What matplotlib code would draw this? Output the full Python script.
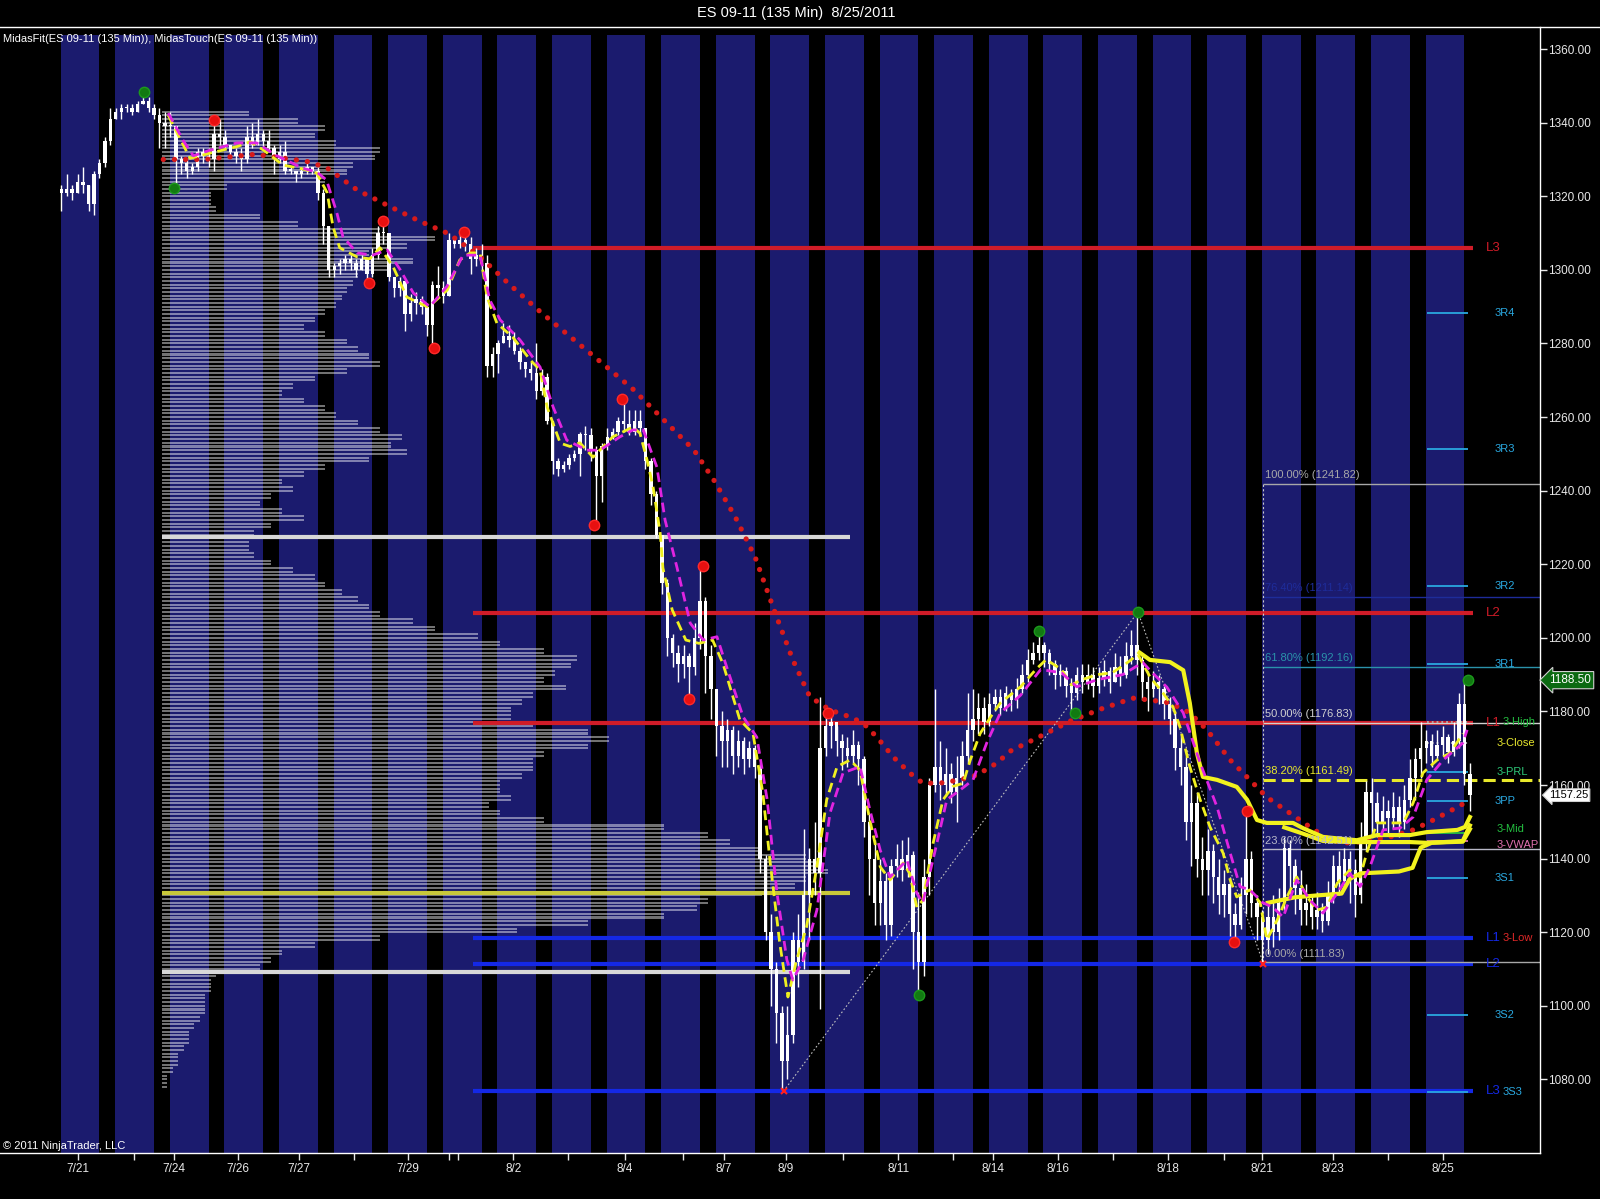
import numpy as np
import matplotlib
matplotlib.use("Agg")
import matplotlib.pyplot as plt
import matplotlib.transforms as mtransforms
from matplotlib.lines import Line2D
from matplotlib.ticker import FormatStrFormatter

plt.rcParams['font.family'] = ['Liberation Sans', 'DejaVu Sans']

# ---------------- data ----------------
title = "ES 09-11 (135 Min)  8/25/2011"
indicator_caption = "MidasFit(ES 09-11 (135 Min)), MidasTouch(ES 09-11 (135 Min))"
copyright_text = "\u00a9 2011 NinjaTrader, LLC"

first_open = 1322
closes = [
    1321, 1322, 1321, 1324, 1323, 1318, 1326, 1329, 1335, 1341,
    1343, 1344, 1344, 1343, 1345, 1346, 1344, 1342, 1340, 1339,
    1339, 1330, 1329, 1327, 1328, 1332, 1331, 1330, 1337, 1336,
    1334, 1332, 1331, 1330, 1336, 1334, 1337, 1335, 1333, 1330,
    1332, 1327, 1327, 1326, 1327, 1328, 1327, 1321, 1312, 1300,
    1301, 1302, 1303, 1302, 1300, 1303, 1299, 1304, 1310, 1310,
    1298, 1295, 1297, 1288, 1291, 1292, 1290, 1285, 1296, 1295,
    1293, 1308, 1307, 1308, 1307, 1303, 1304, 1302, 1274, 1277,
    1280, 1282, 1281, 1278, 1275, 1273, 1272, 1267, 1271, 1259,
    1248, 1246, 1247, 1249, 1250, 1255.5, 1255, 1251, 1244, 1252,
    1254.5, 1256, 1259, 1258, 1256, 1259, 1257, 1248, 1239, 1228,
    1215, 1200, 1196, 1193, 1195, 1192, 1200, 1210, 1195, 1186,
    1176, 1172, 1175, 1168, 1172, 1167, 1170, 1165, 1140, 1120,
    1110, 1098, 1085, 1092, 1118, 1112, 1130, 1140, 1136, 1170,
    1176, 1177, 1172, 1170, 1168, 1171, 1167, 1150, 1140, 1128,
    1134, 1122, 1138, 1140, 1137, 1141, 1120, 1112, 1135, 1160,
    1165, 1160, 1163, 1158, 1162, 1168, 1175, 1178, 1181, 1177,
    1182, 1184, 1181, 1185, 1183, 1186, 1190, 1194, 1196, 1198,
    1196, 1193, 1190, 1191, 1187, 1185, 1190, 1188, 1190, 1187,
    1189, 1191, 1188, 1192, 1190, 1195, 1198, 1194, 1188, 1186,
    1188, 1186, 1182, 1178, 1170, 1165, 1150, 1155, 1140, 1137,
    1142, 1135, 1130, 1133, 1125, 1122, 1130, 1140, 1128, 1124,
    1118, 1124, 1120, 1128, 1143, 1138, 1132, 1126, 1128, 1124,
    1126, 1123, 1130, 1138, 1134, 1140, 1137, 1130, 1145, 1158,
    1155, 1150, 1153, 1151, 1154, 1150, 1156, 1162, 1167, 1170,
    1172, 1168, 1171, 1173, 1169, 1172, 1182, 1163, 1157.25,
]
highs = [
    1323, 1326, 1323, 1326, 1328, 1323, 1327, 1330, 1336, 1344,
    1344, 1345, 1345, 1345, 1346, 1348, 1347, 1345, 1344, 1343,
    1343, 1339, 1331, 1330, 1329, 1333, 1333, 1333, 1340, 1341,
    1338, 1334, 1333, 1333, 1339, 1340, 1341, 1338, 1338, 1334,
    1334, 1335, 1328, 1327, 1328, 1329, 1328, 1328, 1322, 1312,
    1302, 1303, 1304, 1304, 1303, 1304, 1302, 1306, 1312, 1313,
    1310, 1298, 1298, 1297, 1293.5, 1294, 1293, 1291, 1297, 1301,
    1297, 1310, 1309, 1310, 1310.5, 1309, 1306, 1307, 1304, 1279,
    1281, 1285.5, 1285, 1283, 1279, 1275, 1275, 1280, 1273, 1272,
    1259, 1249, 1248, 1250, 1251, 1256, 1257.5, 1257, 1252, 1253,
    1257, 1257, 1260, 1265, 1262, 1262, 1262, 1257, 1249, 1240,
    1228, 1216, 1201, 1198, 1198, 1196, 1204, 1219, 1211, 1198,
    1186, 1180, 1178, 1176, 1175, 1173, 1172, 1171, 1166, 1141,
    1125, 1112, 1100, 1100, 1120, 1125, 1148, 1143, 1150, 1184,
    1180, 1179, 1176, 1174, 1173, 1175, 1172, 1168, 1152, 1145,
    1140, 1136, 1140, 1144, 1145, 1146, 1142, 1131, 1140, 1162,
    1186, 1172, 1170, 1166, 1168, 1172, 1185, 1186, 1185, 1184,
    1185, 1186, 1186, 1187, 1186, 1189, 1193, 1197, 1199, 1202,
    1199, 1197, 1194, 1193, 1192, 1189, 1192, 1193, 1193, 1192,
    1192, 1194, 1192, 1196, 1195, 1199, 1202, 1207, 1196, 1191,
    1191, 1190, 1187, 1184, 1180, 1174, 1168, 1160, 1158, 1146,
    1148, 1144, 1140, 1137, 1135, 1128, 1135, 1153, 1142, 1130,
    1126, 1128, 1130, 1132, 1146, 1145, 1140, 1137, 1133, 1130,
    1131, 1128, 1134, 1141, 1142, 1143, 1142, 1140, 1150, 1161,
    1162, 1158, 1157, 1156, 1158, 1157, 1160, 1167, 1170, 1177,
    1175, 1174, 1175, 1176, 1174, 1177, 1185, 1188.5, 1166,
]
lows = [
    1316, 1320, 1319, 1321, 1321, 1316, 1315, 1325, 1328, 1334,
    1341, 1341, 1343, 1342, 1343, 1345, 1343, 1341, 1333, 1333,
    1336, 1322, 1326, 1325, 1326, 1327, 1329, 1328, 1327, 1334,
    1333, 1331, 1329, 1327, 1329, 1333, 1334, 1333, 1332, 1326,
    1329, 1326, 1326, 1324, 1325, 1326, 1326, 1319, 1307, 1298,
    1298, 1299, 1300, 1300, 1298, 1300, 1296.5, 1298, 1303, 1307,
    1297, 1292.5, 1293, 1283.5, 1286, 1288, 1288, 1282, 1279, 1293,
    1291, 1293, 1306, 1306, 1305, 1299, 1301, 1300, 1271, 1271,
    1272, 1280, 1279, 1277, 1273, 1271, 1270, 1265, 1266, 1258,
    1244.5, 1244, 1245, 1246, 1248, 1244, 1251, 1248, 1230.7, 1237,
    1251, 1254, 1255, 1256, 1255, 1255, 1255, 1246, 1236, 1227,
    1212, 1195, 1192, 1188, 1189, 1183.5, 1190, 1197, 1185, 1178,
    1168, 1165, 1165, 1163, 1165, 1163, 1165, 1162, 1136, 1118,
    1100, 1090, 1077, 1080, 1090, 1105, 1110, 1118, 1130, 1099,
    1168, 1170, 1168, 1164, 1165, 1166, 1160, 1146, 1130, 1122,
    1122, 1118, 1119, 1135, 1134, 1135, 1110, 1103, 1108, 1130,
    1158, 1156, 1157, 1155, 1150, 1160, 1166, 1172, 1174, 1174,
    1176, 1180, 1179, 1180, 1180, 1181, 1185, 1188, 1193, 1194,
    1192, 1190, 1186, 1187, 1184, 1180, 1183, 1185, 1186, 1184,
    1185, 1187, 1185, 1188, 1187, 1189, 1193, 1190, 1183, 1180,
    1184, 1182, 1178, 1174, 1164, 1160, 1145, 1138, 1135, 1130,
    1130, 1128, 1125, 1124, 1119, 1117, 1121, 1125, 1124, 1118,
    1111.8, 1114, 1116, 1118, 1126, 1130, 1125, 1122, 1122, 1121,
    1121, 1120, 1122, 1128, 1130, 1132, 1128, 1124, 1128, 1142,
    1146, 1146, 1148, 1147, 1148, 1146, 1148, 1154, 1156, 1162,
    1166, 1165, 1167, 1168, 1166, 1168, 1170, 1160, 1153,
]

session_count = 26
bars_per_session = 10

# volume profile (2-point buckets from 1342 down to 1078)
profile_top = 1342
profile_volume = [
    16, 25, 30, 28, 32, 40, 39, 35, 34, 30,
    12, 9, 9, 10, 18, 25, 40, 50, 45, 38,
    46, 42, 36, 35, 34, 33, 32, 30, 28, 26,
    30, 34, 36, 38, 40, 34, 28, 24, 22, 26,
    30, 32, 36, 40, 44, 42, 45, 38, 30, 26,
    22, 24, 20, 18, 22, 26, 20, 17, 16, 16,
    17, 20, 24, 28, 30, 33, 36, 38, 40, 46,
    50, 58, 62, 70, 76, 75, 72, 70, 74, 68,
    66, 64, 64, 68, 78, 82, 78, 70, 68, 68,
    66, 62, 62, 64, 60, 62, 70, 92, 100, 104,
    110, 118, 120, 122, 118, 116, 110, 100, 98, 92,
    78, 65, 40, 28, 22, 20, 18, 10, 9, 9,
    8, 8, 8, 7, 6, 5, 5, 4, 3, 3,
    2, 1, 1,
]
profile_prices = profile_top - 2 * np.arange(len(profile_volume))
profile_levels = [1227.5, 1130.6, 1109.3]
profile_level_colors = ['#d8d8d8', '#c8c83a', '#d8d8d8']

# MidasFit (yellow dashed) and MidasTouch (magenta dashed) curves
fit_points = [
    (19.6, 1342), (23.6, 1330.3), (27.2, 1331.7), (32.2, 1333.5), (34.6, 1334.8), (37, 1332.6),
    (40.6, 1328.5), (44.3, 1327.4), (46.8, 1326.3), (48.7, 1321), (49.8, 1311.6), (51, 1306),
    (54.2, 1303.5), (56.5, 1303), (58.4, 1306), (60.8, 1300.8), (63.3, 1292.6), (67, 1290),
    (68.1, 1291), (70.7, 1294.5), (73, 1302.7), (74.9, 1304.6), (76.7, 1304.6), (78, 1292.6),
    (79.8, 1285.5), (82.7, 1281.7), (85.9, 1275.5), (87.7, 1272.8), (89, 1262.7), (91.4, 1252.9),
    (93.2, 1252), (95, 1253), (97.4, 1249.1), (101, 1254.6), (104.7, 1257.3), (106, 1255.6),
    (107.3, 1248.3), (108.4, 1241), (109.7, 1228.5), (110.2, 1219), (111.9, 1207.6),
    (114.4, 1199.4), (116.8, 1198.5), (119.3, 1199.4), (121.2, 1193), (124.3, 1177.7),
    (126.7, 1174), (128.5, 1157.8), (129.8, 1139.6), (131.6, 1117), (133.1, 1102.4),
    (134.7, 1112.5), (136.5, 1121.4), (138.4, 1137.8), (140.2, 1156), (142.1, 1165),
    (144.5, 1166.8), (146.3, 1164), (148.1, 1150.5), (150, 1137.8), (151.8, 1134.2),
    (154.2, 1138.8), (155.4, 1136), (156.7, 1126.8), (157.8, 1128.7), (159.7, 1144.3),
    (161.5, 1156), (163.3, 1159.6), (165.2, 1160.5), (166.5, 1166.8), (168.3, 1174),
    (170.7, 1179.6), (172, 1182.3), (175.7, 1186.7), (178.5, 1191.4), (180.4, 1194.1),
    (183.2, 1191.4), (185, 1187.2), (186.9, 1188.6), (189.7, 1190), (192.5, 1190.5),
    (195.3, 1193.3), (197.2, 1195.5), (199.4, 1189.4), (201.8, 1185), (203.6, 1181.3),
    (204.9, 1175.8), (206.7, 1165), (208.6, 1156), (210.4, 1148.6), (212.8, 1141.5),
    (214.1, 1134.2), (215.3, 1129.6), (217.7, 1131.5), (219.6, 1128), (220.8, 1117.9),
    (222.7, 1123.3), (224.5, 1129.6), (226.3, 1135), (228.2, 1129.6), (230, 1126),
    (231.8, 1126.8), (233.7, 1133.3), (236, 1136.9), (237.9, 1135), (239.1, 1141.5),
    (241, 1149.7), (243.4, 1149.7), (245.8, 1149.7), (247.6, 1155.1), (249.4, 1163.3),
    (252, 1166.8), (254.4, 1168.7), (256.7, 1174),
]
touch_points = [
    (19.6, 1342.6), (22.4, 1335), (24.2, 1331), (27.2, 1332.5), (32.2, 1334.5), (35.8, 1334.5),
    (39.5, 1331), (44.3, 1327.6), (46.8, 1326.6), (48.6, 1324.4), (50.5, 1315.4), (51.6, 1309),
    (54.2, 1304.6), (57, 1304), (59.7, 1305.4), (62.1, 1300), (64.5, 1293.7), (67.5, 1290),
    (70.6, 1295.4), (73.6, 1304), (76.7, 1304), (78.5, 1291.8), (80.4, 1286.4), (84, 1281),
    (87.7, 1273.6), (90.1, 1262.7), (92.6, 1253.7), (96.3, 1251), (98.7, 1251), (102.3, 1254.6),
    (104.7, 1256.5), (106.6, 1256.5), (109.1, 1246.4), (110.6, 1232), (112.8, 1219),
    (115.2, 1204), (117.6, 1199.4), (120.1, 1200.3), (121.9, 1192), (124.9, 1178.5),
    (127.4, 1173), (129.3, 1156), (131.1, 1130.6), (132.9, 1112.5), (134, 1107),
    (135.9, 1112.5), (138.4, 1126), (140.8, 1152.4), (143.2, 1163.3), (146.3, 1165),
    (148.1, 1153.3), (150, 1142.3), (151.8, 1135), (154.9, 1139.6), (156.7, 1130.6),
    (157.8, 1128), (160.4, 1144.3), (162.2, 1156), (164.6, 1158.6), (167, 1161.4),
    (169.5, 1171.4), (172, 1179.6), (175.7, 1184.4), (179.4, 1191.4), (183.2, 1190.5),
    (186, 1186.7), (189.7, 1188.6), (194.4, 1190), (198.1, 1193.3), (199.4, 1191.2),
    (202.5, 1186.6), (205.5, 1179.6), (208.6, 1166), (211.7, 1154), (214.1, 1141.5),
    (215.9, 1132.4), (217.7, 1131.5), (220.1, 1128), (221.9, 1126.8), (223.8, 1124.1),
    (226.3, 1134.2), (228.7, 1128.7), (231.1, 1125.2), (233.7, 1130.6), (236, 1136),
    (237.9, 1132.4), (239.7, 1137.8), (242.1, 1147.8), (245.2, 1148.3), (247.6, 1151.3),
    (250.1, 1161.4), (253.1, 1166.8), (256.7, 1171.4), (257.5, 1175),
]
# anchored VWAP-style red dotted curve
midas_points = [
    (18.7, 1330), (26.2, 1330), (35.5, 1331.4), (44.9, 1329.5), (48.6, 1327.8), (54.2, 1321.7),
    (59.8, 1317.5), (65.4, 1313.4), (71, 1309.8), (76.6, 1303.7), (82.2, 1295.9), (87.9, 1288.4),
    (93.5, 1281.5), (99.1, 1274.6), (104.7, 1267.6), (110.3, 1259.3), (115.9, 1251),
    (119.6, 1242.7), (123.4, 1233), (127.1, 1221.9), (130.8, 1206.6), (134, 1194),
    (137.1, 1184), (140.8, 1180.4), (144.5, 1178.5), (146.9, 1176.8), (149.4, 1173),
    (152.4, 1167.6), (155.4, 1163.3), (157.8, 1160.5), (160.9, 1160.5), (164.6, 1161.4),
    (167.7, 1162.7), (171.4, 1166), (173.8, 1169.2), (179.4, 1173.3), (185, 1177.5),
    (190.7, 1180.8), (196.3, 1183.6), (199.4, 1183.1), (203.1, 1182.3), (206.7, 1179.6),
    (209.9, 1174.9), (214.1, 1166.8), (217.7, 1161.4), (220.8, 1156.7), (225, 1152.4),
    (228.7, 1148.6), (232.4, 1145), (236, 1144.2), (239.7, 1145), (243.4, 1145.9),
    (247.6, 1147.8), (251.3, 1150.5), (255.7, 1154), (258, 1155.9),
]
band_upper = [
    (197.5, 1196), (199.4, 1194), (203.1, 1193.4), (205.5, 1191.2), (206.7, 1182.3), (208, 1168.7),
    (209.1, 1162.2), (211.7, 1161.4), (215.3, 1159.5), (217.2, 1156), (219, 1150.5),
    (220.8, 1149.7), (225.6, 1149.7), (227.4, 1148.3), (231.1, 1145.9), (233.7, 1145.5),
    (237.3, 1145), (241, 1146.4), (247, 1146.4), (250.1, 1147.2), (255.7, 1147.8),
    (257.1, 1148.6), (258, 1151.3),
]
band_middle = [
    (224, 1148.5), (227.4, 1146.8), (231.1, 1144.8), (236, 1144.5), (241, 1144.5),
    (247, 1144.5), (250.1, 1144.3), (256.7, 1144.6), (258, 1148),
]
band_lower = [
    (221, 1128), (226, 1129.5), (230, 1130), (234.5, 1130.5), (236, 1134.5), (238, 1136),
    (245, 1136.5), (247.5, 1137.5), (249, 1143), (251, 1144.3), (256.7, 1144.8), (258, 1149),
]

red_dots = [(27.9, 1340.7), (56.4, 1296.3), (59, 1313.4), (68.2, 1278.8), (73.8, 1310.2),
            (97.6, 1230.6), (102.8, 1264.8), (115, 1183.5), (117.6, 1219.4), (140.5, 1179.6),
            (214.8, 1117.3), (217.2, 1153)]
green_dots = [(15.2, 1348.3), (20.6, 1322.2), (157.1, 1103), (179, 1201.9), (185.6, 1179.7),
              (197.2, 1207), (257.6, 1188.6)]
swing_marks = [(132.3, 1076.8), (220.1, 1111.3)]
trend_points = [(132.3, 1076.8), (197.2, 1207), (220.1, 1111.83)]

level_names = ['L3', 'L2', 'L1', 'L1', 'L2', 'L3']
level_values = [1306.0, 1206.8, 1176.83, 1118.4, 1111.3, 1076.8]
level_colors = ['#d01c28', '#d01c28', '#d01c28', '#1428e6', '#1428e6', '#1428e6']

fib_pcts = ['100.00%', '76.40%', '61.80%', '50.00%', '38.20%', '23.60%', '0.00%']
fib_values = [1241.82, 1211.14, 1192.16, 1176.83, 1161.49, 1142.51, 1111.83]
fib_colors = ['#a8a8a8', '#1e2c9a', '#2a92aa', '#d0d0d0', '#e8e82a', '#b8b8c8', '#a8a8a8']
fib_start = 220.1

pivot_names = ['3R4', '3R3', '3R2', '3R1', '3-High', '3-Close', '3-PRL', '3PP', '3-Mid',
               '3-VWAP', '3S1', '3-Low', '3S2', '3S3']
pivot_values = [1288.2, 1251.3, 1214.0, 1193.0, 1177.0, 1171.5, 1163.5, 1155.6, 1147.0,
                1144.8, 1134.6, 1118.5, 1097.5, 1076.6]
pivot_label_colors = ['#2aa8e0', '#2aa8e0', '#2aa8e0', '#2aa8e0', '#24c040', '#e6e62e',
                      '#2ec878', '#2aa8e0', '#24c040', '#e070b0', '#2aa8e0', '#e02828',
                      '#2aa8e0', '#2aa8e0']
pivot_line_colors = ['#2aa8e0', '#2aa8e0', '#2aa8e0', '#2aa8e0', '#b0b0b0', '#b0b0b0',
                     '#2aa8e0', '#2aa8e0', '#24c040', '#e070b0', '#2aa8e0', '#1428e6',
                     '#2aa8e0', '#2aa8e0']
pivot_line_styles = ['-', '-', '-', '-', ':', ':', '-', '-', '-', '-', '-', '-', '-', '-']
pivot_shared_with_level = ['3-High', '3-Low', '3S3']
# small vertical nudges so that the two tightly packed labels stay legible
pivot_label_nudge = {'3-Mid': 1.0, '3-VWAP': -1.0}

date_tick_bars = [3.1, 13.3, 20.6, 32.4, 43.5, 53.6, 63.5, 71, 72.7, 82.8, 92.8, 103.2, 113.9,
                  121.3, 132.7, 143.2, 153.3, 163.3, 170.7, 182.6, 192.6, 202.7, 212.9, 219.9,
                  232.9, 243, 253.1]
date_tick_labels = ['7/21', '', '7/24', '7/26', '7/27', '', '7/29', '', '', '8/2', '', '8/4', '',
                    '8/7', '8/9', '', '8/11', '', '8/14', '8/16', '', '8/18', '', '8/21', '8/23',
                    '', '8/25']

last_high_price = 1188.50
last_price = 1157.25

# ---------------- figure ----------------
W, H = 1600, 1199
fig = plt.figure(figsize=(W / 100, H / 100), dpi=100, facecolor='black')
ax = fig.add_axes([0, (H - 1153) / H, 1540 / W, (1153 - 27) / H])
ax.set_facecolor('black')
XMIN, XMAX = -11.21, 270.84
ax.set_xlim(XMIN, XMAX)
ax.set_ylim(1060.0, 1366.0)

# session stripes
stripe_len = 7.1
for s in range(session_count):
    x0 = s * bars_per_session - 0.1
    ax.axvspan(x0, x0 + stripe_len, ymin=0, ymax=0.993, color='#1b1b6e', lw=0, zorder=0)

# volume profile
prof_left = 18.4
pv = np.repeat(profile_volume, 2)
pp = np.column_stack([profile_prices, profile_prices + 1]).ravel()
ax.barh(pp, pv, left=prof_left, height=0.55, color='white', alpha=0.45, lw=0, zorder=1)
ax.hlines(profile_levels, prof_left, 144.5, colors=profile_level_colors, lw=3, zorder=2)

# L levels
ax.hlines(level_values, 75.5, 258.6, colors=level_colors, lw=3, zorder=2)

# fib lines
for pct, v, c in zip(fib_pcts, fib_values, fib_colors):
    if pct == '38.20%':
        ax.hlines(v, fib_start, XMAX, colors=c, lw=2.2, linestyles=(0, (4, 2)), zorder=2)
    else:
        ax.hlines(v, fib_start, XMAX, colors=c, lw=1, zorder=2)
    ax.text(fib_start + 0.4, v + 1.0, f"{pct} ({v:.2f})", color=c, fontsize=8,
            ha='left', va='bottom', zorder=7)
ax.vlines(fib_start, fib_values[-1], fib_values[0], colors='#c8c8c8', lw=0.8,
          linestyles=(0, (2, 2)), zorder=2)

# trend dotted lines
tx, ty = zip(*trend_points)
ax.plot(tx, ty, color='#c0c0c0', lw=0.8, ls=(0, (1.5, 2)), zorder=2)

# pivot segments
for name, v, lc, ls in zip(pivot_names, pivot_values, pivot_line_colors, pivot_line_styles):
    ax.hlines(v, 250.2, 257.6, colors=lc, lw=1.3, linestyles=ls, zorder=3)

# candles
opens = [first_open] + closes[:-1]
o = np.array(opens, float)
c = np.array(closes, float)
hi = np.array(highs, float)
lo = np.array(lows, float)
xb = np.arange(len(c))
body_lo = np.minimum(o, c)
body_h = np.maximum(np.abs(c - o), 0.35)
ax.vlines(xb, lo, hi, colors='white', lw=1, zorder=4)
ax.bar(xb, body_h, bottom=body_lo, width=0.62, color='white', lw=0, zorder=4)

# indicator curves
mx, my = zip(*midas_points)
ax.plot(mx, my, color='#d81a1a', lw=3.8, ls=(0, (0.01, 2.1)), dash_capstyle='round', zorder=5)
for band in (band_upper, band_middle, band_lower):
    bx, by = zip(*band)
    ax.plot(bx, by, color='#f2f21e', lw=3, solid_joinstyle='round', zorder=5)
fx, fy = zip(*fit_points)
ax.plot(fx, fy, color='#f0f020', lw=2, ls=(0, (3.5, 2)), zorder=6)
gx, gy = zip(*touch_points)
ax.plot(gx, gy, color='#e024e0', lw=2, ls=(0, (3.5, 2)), zorder=6)

# swing dots
rx, ry = zip(*red_dots)
ax.plot(rx, ry, 'o', ms=7.5, color='#e81010', mec='#ff2a2a', ls='none', zorder=7)
gx2, gy2 = zip(*green_dots)
ax.plot(gx2, gy2, 'o', ms=7.5, color='#127a12', mec='#1c9a1c', ls='none', zorder=7)
sx, sy = zip(*swing_marks)
ax.plot(sx, sy, marker='x', ls='none', ms=5, mew=1.5, color='#ff2020', zorder=7)

# level labels
for name, v, col in zip(level_names, level_values, level_colors):
    ax.text(260.9, v, name, color=col, fontsize=9.5, ha='left', va='center', zorder=8)
for name, v, col in zip(pivot_names, pivot_values, pivot_label_colors):
    if name in pivot_shared_with_level:
        xoff = 263.9
    elif name.startswith('3-'):
        xoff = 262.9
    else:
        xoff = 262.6
    ax.text(xoff, v + pivot_label_nudge.get(name, 0.0), name, color=col, fontsize=8,
            ha='left', va='center', zorder=9)

# axes styling
for side in ('left', 'top'):
    ax.spines[side].set_visible(False)
for side in ('right', 'bottom'):
    ax.spines[side].set_color('white')
    ax.spines[side].set_linewidth(1)
ax.yaxis.tick_right()
ax.set_yticks(np.arange(1080, 1361, 20))
ax.yaxis.set_major_formatter(FormatStrFormatter('%.2f'))
ax.tick_params(axis='y', colors='#e8e8e8', labelsize=8.5, length=5, width=1,
               direction='out', pad=1)
ax.set_xticks(date_tick_bars)
ax.set_xticklabels(date_tick_labels)
ax.tick_params(axis='x', colors='#e8e8e8', labelsize=8.5, length=5, width=1,
               direction='out', pad=2)

# price boxes on the axis
trans = mtransforms.blended_transform_factory(ax.transAxes, ax.transData)
ax.text(1.006, last_high_price, f"{last_high_price:.2f}", transform=trans, ha='left',
        va='center', fontsize=8.5, color='white', zorder=10, clip_on=False,
        bbox=dict(boxstyle='larrow,pad=0.22', fc='#0b6a12', ec='#d0d0d0', lw=0.8))
ax.text(1.006, last_price, f"{last_price:.2f}", transform=trans, ha='left',
        va='center', fontsize=8, color='black', zorder=10, clip_on=False,
        bbox=dict(boxstyle='larrow,pad=0.12', fc='white', ec='#d0d0d0', lw=0.8))

# figure texts and frame line
fig.text(796 / W, 1 - 12.5 / H, title, ha='center', va='center', color='white', fontsize=10.5)
fig.add_artist(Line2D([0, 1], [1 - 27 / H, 1 - 27 / H], transform=fig.transFigure,
                      color='white', lw=1))
fig.text(3 / W, 1 - 39 / H, indicator_caption, ha='left', va='center', color='white',
         fontsize=8)
fig.text(3 / W, 1 - 1146 / H, copyright_text, ha='left', va='center', color='white',
         fontsize=8)

fig.savefig('out.png', dpi=100, facecolor='black')
